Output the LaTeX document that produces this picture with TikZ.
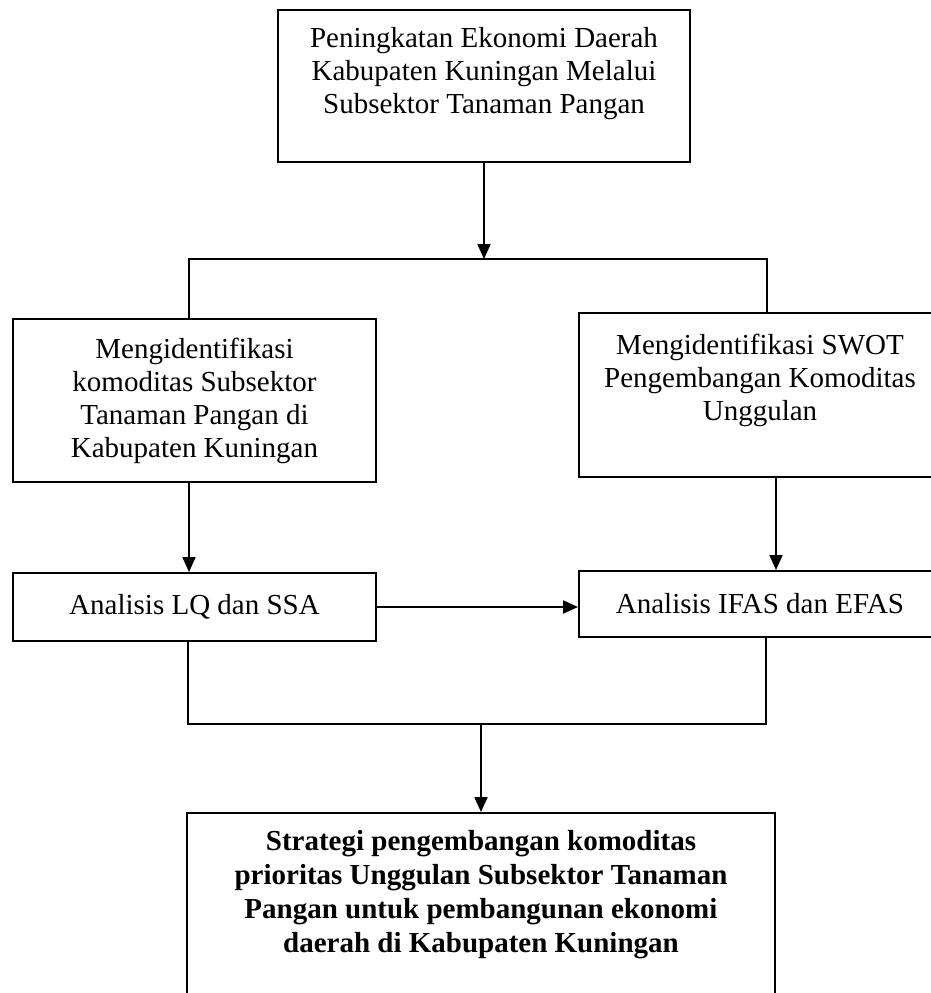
\documentclass[tikz,border=0pt]{standalone}
\usepackage{fontspec}
\setmainfont{Liberation Serif}
\usetikzlibrary{arrows.meta,calc}

\tikzset{
  box/.style={draw, line width=2pt, inner sep=0pt, align=center, font=\fontsize{29}{33}\selectfont},
  flow/.style={line width=2pt, -{Triangle[length=15pt,width=13pt]}},
  link/.style={line width=2pt}
}
% text set at the top of a box: width, height, top gap, text
\newcommand{\toptext}[4]{\parbox[c][#2][t]{#1}{\centering\vspace*{#3}#4}}

\begin{document}
\begin{tikzpicture}[x=1pt,y=-1pt]
    \clip (0,0) rectangle (931,993);
    \fill[white] (0,0) rectangle (931,993);
    % boxes
    \node[box, minimum width=412pt, minimum height=152pt] (goal) at (484,86)
        {\toptext{400pt}{152pt}{17pt}{Peningkatan Ekonomi Daerah\\Kabupaten Kuningan Melalui\\Subsektor Tanaman Pangan}};
    \node[box, minimum width=363pt, minimum height=163pt] (ident) at (194.5,400.5)
        {Mengidentifikasi\\komoditas Subsektor\\Tanaman Pangan di\\Kabupaten Kuningan};
    \node[box, minimum width=362pt, minimum height=164pt] (swot) at (760,395)
        {\toptext{350pt}{164pt}{21pt}{Mengidentifikasi SWOT\\Pengembangan Komoditas\\Unggulan}};
    \node[box, minimum width=363pt, minimum height=68pt] (lq) at (194.5,607) {Analisis LQ dan SSA};
    \node[box, minimum width=362pt, minimum height=66pt] (ifas) at (760,604) {Analisis IFAS dan EFAS};
    \node[box, font=\fontsize{29}{34}\selectfont\bfseries, minimum width=588pt, minimum height=197pt] (strat) at (481,911.5)
        {\toptext{570pt}{197pt}{17pt}{Strategi pengembangan komoditas\\prioritas Unggulan Subsektor Tanaman\\Pangan untuk pembangunan ekonomi\\daerah di Kabupaten Kuningan}};
    % branching
    \coordinate (splitL) at (189,259);
    \coordinate (splitR) at (767,259);
    \draw[flow] (goal.south) -- (goal.south |- splitL);
    \draw[link] (splitL |- ident.north) -- (splitL) -- (splitR) -- (splitR |- swot.north);
    \draw[flow] (splitL |- ident.south) -- (splitL |- lq.north);
    \draw[flow] ([xshift=16pt]swot.south) -- ([xshift=16pt]swot.south |- ifas.north);
    \draw[flow] (lq.east) -- (lq.east -| ifas.west);
    % joining
    \coordinate (joinL) at (188,724);
    \coordinate (joinR) at (766,724);
    \draw[link] (joinL |- lq.south) -- (joinL) -- (joinR) -- (joinR |- ifas.south);
    \draw[flow] (strat.north |- joinL) -- (strat.north);
\end{tikzpicture}
\end{document}
